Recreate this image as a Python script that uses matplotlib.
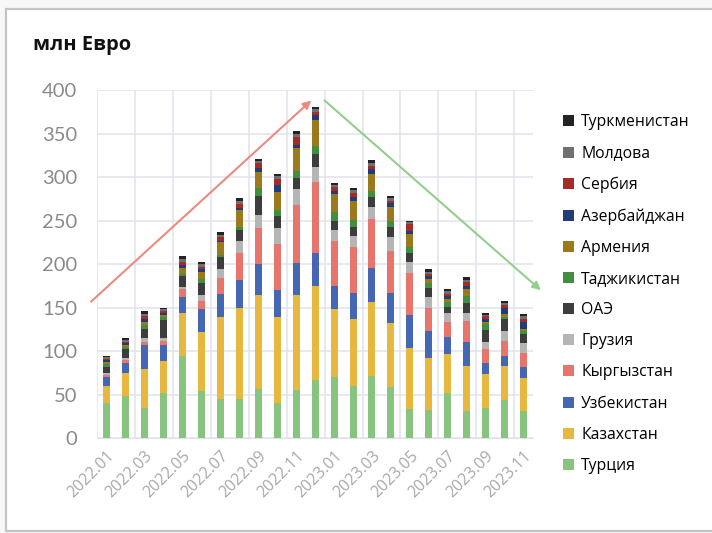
import numpy as np
import matplotlib
matplotlib.use("Agg")
import matplotlib.pyplot as plt
from matplotlib.patches import Rectangle

# ---- Datos (mln EUR), 2022.01 .. 2023.11 ----
meses = ["2022.01", "2022.02", "2022.03", "2022.04", "2022.05", "2022.06",
         "2022.07", "2022.08", "2022.09", "2022.10", "2022.11", "2022.12",
         "2023.01", "2023.02", "2023.03", "2023.04", "2023.05", "2023.06",
         "2023.07", "2023.08", "2023.09", "2023.10", "2023.11"]

turciya = [40, 48, 35, 52, 95, 54, 45, 45, 57, 40, 56, 67,
           70, 60, 71, 59, 34, 33, 52, 31, 35, 44, 31]
kazakhstan = [20, 27, 45, 37, 49, 68, 94, 105, 107, 99, 108, 108,
              79, 77, 85, 73, 70, 59, 45, 52, 39, 39, 38]
uzbekistan = [10, 12, 27, 18, 18, 26, 27, 32, 36, 31, 37, 38,
              26, 30, 39, 35, 38, 31, 19, 27, 13, 12, 13]
kyrgyzstan = [3, 3, 4, 5, 9, 10, 18, 31, 41, 53, 67, 81,
              52, 53, 57, 48, 48, 27, 18, 25, 15, 17, 16]
gruziya = [2, 2, 4, 3, 3, 7, 10, 13, 15, 18, 18, 17,
           12, 12, 14, 16, 13, 12, 10, 9, 9, 11, 11]
oae = [7, 10, 11, 21, 12, 13, 14, 13, 22, 14, 13, 15,
       11, 11, 11, 12, 10, 11, 7, 11, 13, 14, 11]
tadzhikistan = [3, 3, 4, 3, 3, 5, 3, 4, 9, 7, 8, 10,
                10, 8, 7, 7, 7, 5, 6, 8, 7, 2, 3]
armeniya = [3, 2, 4, 3, 6, 8, 14, 19, 19, 21, 26, 29,
            20, 22, 20, 16, 15, 5, 3, 9, 3, 4, 3]
azerbaidzhan = [2, 2, 3, 2, 4, 3, 2, 3, 4, 8, 4, 6,
                4, 4, 5, 4, 3, 3, 3, 3, 3, 7, 8]
serbiya = [1.5, 1.6, 3, 2, 4, 3, 4, 4, 6, 7, 9, 4,
           4, 5, 4, 3, 8, 3, 3, 4, 3, 3, 3]
moldova = [1.5, 2, 3, 2, 3, 3, 3, 3, 2, 3, 3, 3,
           3, 3, 3, 3, 2, 2, 3, 3, 2, 2, 3]
turkmenistan = [1.5, 3, 3, 2, 3, 3, 3, 4, 3, 3, 4, 3,
                2, 2, 4, 2, 2, 3, 2, 3, 2, 3, 3]

series = [
    ("Турция", turciya, "#88c47f"),
    ("Казахстан", kazakhstan, "#e6b840"),
    ("Узбекистан", uzbekistan, "#4566b2"),
    ("Кыргызстан", kyrgyzstan, "#e8756c"),
    ("Грузия", gruziya, "#b5b5b5"),
    ("ОАЭ", oae, "#3d3d3d"),
    ("Таджикистан", tadzhikistan, "#3f8f3f"),
    ("Армения", armeniya, "#9b7a1e"),
    ("Азербайджан", azerbaidzhan, "#223c7a"),
    ("Сербия", serbiya, "#a52b26"),
    ("Молдова", moldova, "#707070"),
    ("Туркменистан", turkmenistan, "#232323"),
]

plt.rcParams["font.family"] = ["Open Sans", "DejaVu Sans"]

fig = plt.figure(figsize=(7.12, 5.33), dpi=100)
fig.patch.set_facecolor("#f7f7f7")

# tarjeta blanca con borde
card = Rectangle((0.009, 0.004), 1.2, 0.98, transform=fig.transFigure,
                 facecolor="white", edgecolor="#c4c4c4", linewidth=1.6, zorder=-1)
fig.patches.append(card)

ax = fig.add_axes([0.136, 0.1777, 0.613, 0.6535])
ax.set_zorder(2)
ax.set_facecolor("none")

x = np.arange(len(meses))
bottom = np.zeros(len(meses))
handles = []
for nombre, vals, color in series:
    vals = np.array(vals, dtype=float)
    b = ax.bar(x, vals, 0.37, bottom=bottom, color=color, label=nombre, zorder=3)
    handles.append(b)
    bottom += vals

ax.set_ylim(0, 400)
ax.set_xlim(-0.5, len(meses) - 0.5)
ax.set_yticks(np.arange(0, 401, 50))
ax.set_xticks(x[::2])
ax.set_xticklabels(meses[::2], rotation=45, ha="right", rotation_mode="anchor",
                   fontsize=11.5, color="#a8a8a8")
ax.set_xticks(np.arange(-0.5, len(meses), 2), minor=True)
ax.tick_params(axis="x", which="both", length=0, pad=7)
ax.tick_params(axis="y", length=0, pad=14, labelsize=14.5, labelcolor="#8a8a8a")
for lab in ax.get_yticklabels():
    lab.set_family(["Lato", "DejaVu Sans"])

ax.grid(axis="y", color="#e2e2ee", linewidth=1.1, zorder=0)
ax.grid(axis="x", which="minor", color="#e2e2ee", linewidth=1.1, zorder=0)
for s in ["top", "right", "left"]:
    ax.spines[s].set_visible(False)
ax.spines["bottom"].set_color("#e2e2ee")

# flechas de tendencia
ax.annotate("", xy=(10.8, 388), xytext=(-0.8, 157), annotation_clip=False,
            arrowprops=dict(arrowstyle="-|>", color="#ec8a80", lw=1.5,
                            mutation_scale=12, shrinkA=0, shrinkB=0))
ax.annotate("", xy=(22.9, 170), xytext=(11.5, 388), annotation_clip=False,
            arrowprops=dict(arrowstyle="-|>", color="#92cf8c", lw=1.5,
                            mutation_scale=12, shrinkA=0, shrinkB=0))

fig.text(0.046, 0.915, "млн Евро", fontsize=14.5, fontweight="bold",
         color="#111111", va="center")

leg = fig.legend(handles[::-1], [s[0] for s in series][::-1],
                 loc="upper left", bbox_to_anchor=(0.78, 0.80),
                 frameon=False, fontsize=11.3, handlelength=0.7, handleheight=0.7,
                 handletextpad=0.45, labelspacing=0.965, borderpad=0)

fig.savefig("out.png", dpi=100)
